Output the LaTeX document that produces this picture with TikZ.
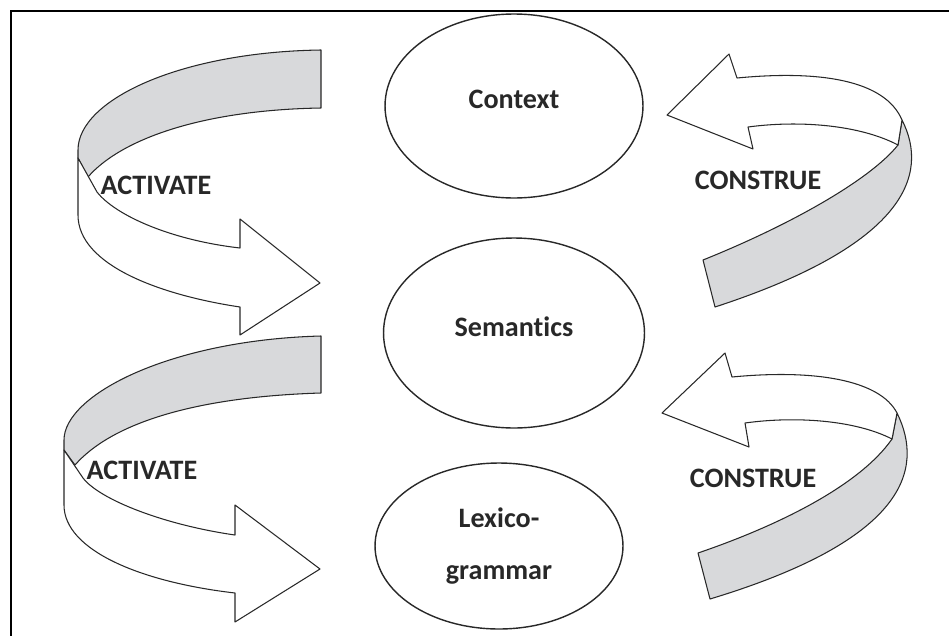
\documentclass[tikz,border=0pt]{standalone}
\usepackage{fontspec}
\setmainfont{Carlito}[Ligatures=NoCommon]
\usepackage{xcolor}
\usepackage{tikz}
\usetikzlibrary{shapes.geometric}

\definecolor{bandgray}{RGB}{216,217,219}
\definecolor{inkgray}{RGB}{40,40,40}

\begin{document}
\begin{tikzpicture}[x=0.02cm,y=-0.02cm,
  level/.style={draw=inkgray,line width=0.8pt,shape=ellipse,inner sep=0pt,
    font=\bfseries\fontsize{16}{19}\selectfont,text=inkgray},
  word/.style={font=\bfseries\fontsize{16}{19}\selectfont,text=inkgray,inner sep=0pt},
  back/.style={draw=inkgray,line width=0.6pt,line join=round,fill=bandgray},
  front/.style={draw=inkgray,line width=0.6pt,line join=round,fill=white}]
\useasboundingbox (0,0) rectangle (949,636);

% frame, top and left only
\draw[line width=1.2pt] (949,11) -- (11,11) -- (11,636);

\node (c) at (514,106)[level,minimum width=5.16cm,minimum height=3.68cm,text depth=0.28cm]{Context};
\node (s) at (514,333)[level,minimum width=5.22cm,minimum height=3.8cm,text depth=0.24cm]{Semantics};
\node (l) at (499,546)[level,minimum width=4.96cm,minimum height=3.32cm,align=center]{Lexico-\\[11pt]grammar};

% activate, upper ribbon
\draw[back] (321,50) .. controls (180,52) and (78,100) .. (78,150) -- (78,158) -- (88,177)
  .. controls (120,140) and (200,110) .. (321,108) -- cycle;
\draw[front] (78,158) -- (78,215) .. controls (78,265) and (160,295) .. (240,307)
  -- (240,335) -- (320,283) -- (240,219) -- (240,248)
  .. controls (170,240) and (115,215) .. (97,192) -- cycle;

% activate, lower ribbon
\draw[back] (321,336) .. controls (170,340) and (64,395) .. (64,440) -- (64,450) -- (75,465)
  .. controls (110,425) and (190,397) .. (321,393) -- cycle;
\draw[front] (64,450) -- (64,505) .. controls (64,550) and (140,582) .. (235,593)
  -- (235,622) -- (320,569) -- (235,505) -- (235,535)
  .. controls (165,525) and (100,500) .. (83,478) -- cycle;

% construe, upper ribbon
\draw[back] (902,120) .. controls (930,175) and (905,245) .. (715,307) -- (703,260)
  .. controls (790,225) and (870,180) .. (898,145) -- cycle;
\draw[front] (667,115) -- (729,54) -- (737,78) .. controls (820,70) and (885,80) .. (902,120)
  -- (898,145) .. controls (860,125) and (800,120) .. (748,127) -- (753,149) -- cycle;

% construe, lower ribbon
\draw[back] (897,413) .. controls (925,470) and (905,540) .. (710,599) -- (698,553)
  .. controls (780,525) and (860,485) .. (892,439) -- cycle;
\draw[front] (662,413) -- (725,353) -- (732,377) .. controls (815,369) and (880,380) .. (897,413)
  -- (892,439) .. controls (855,420) and (795,416) .. (745,423) -- (749,447) -- cycle;

\node (a1) at (156,185)[word]{ACTIVATE};
\node (a2) at (142,470)[word]{ACTIVATE};
\node (k1) at (758,180)[word]{CONSTRUE};
\node (k2) at (753,478)[word]{CONSTRUE};

\end{tikzpicture}
\end{document}
